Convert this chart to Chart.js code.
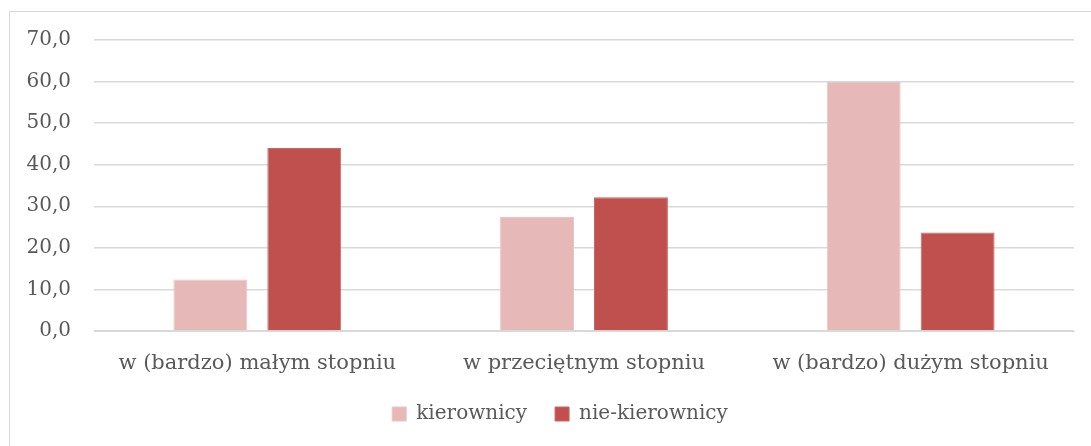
<!DOCTYPE html>
<html lang="pl">
<head>
    <meta charset="UTF-8">
    <title>kierownicy / nie-kierownicy</title>
    <script src="https://cdn.jsdelivr.net/npm/chart.js"></script>
    <style>
        html, body { margin: 0; padding: 0; background: #fff; }
        .frame {
            position: absolute;
            left: 9px; top: 11px;
            width: 1100px; height: 460px;
            border-left: 1px solid #d9d9d9;
            border-top: 1px solid #d9d9d9;
        }
        .chart-box { position: absolute; left: 0; top: 0; width: 1091px; height: 446px; }
    </style>
</head>
<body>
    <div class="frame"></div>
    <div class="chart-box">
        <canvas id="chart"></canvas>
    </div>

    <script>
        const categories = ["w (bardzo) małym stopniu", "w przeciętnym stopniu", "w (bardzo) dużym stopniu"];
        const kierownicy = [12.4, 27.4, 60.0];
        const nieKierownicy = [44.0, 32.2, 23.7];
        const yTicks = [0, 10, 20, 30, 40, 50, 60, 70];

        const fontFamily = "'DejaVu Serif', 'Liberation Serif', serif";
        const textColor = "#595959";

        // legend in the original sits a little right of centre
        const legendShift = {
            id: "legendShift",
            afterLayout(chart) {
                chart.legend.left += 18;
                chart.legend.right += 18;
            }
        };

        const ctx = document.getElementById("chart").getContext("2d");
        new Chart(ctx, {
            type: "bar",
            data: {
                labels: categories,
                datasets: [
                    {
                        label: "kierownicy",
                        data: kierownicy,
                        backgroundColor: "#e6b9b8",
                        borderColor: "#ebc4c3",
                        borderWidth: 1,
                        barPercentage: 0.787,
                        categoryPercentage: 0.575
                    },
                    {
                        label: "nie-kierownicy",
                        data: nieKierownicy,
                        backgroundColor: "#c0504d",
                        borderColor: "#c86663",
                        borderWidth: 1,
                        barPercentage: 0.787,
                        categoryPercentage: 0.575
                    }
                ]
            },
            plugins: [legendShift],
            options: {
                responsive: true,
                maintainAspectRatio: false,
                animation: false,
                layout: { padding: { left: 10, right: 17, top: 40, bottom: 12 } },
                plugins: {
                    tooltip: { enabled: false },
                    legend: {
                        position: "bottom",
                        labels: {
                            font: { family: fontFamily, size: 20 },
                            color: textColor,
                            boxWidth: 14,
                            boxHeight: 14,
                            padding: 28
                        }
                    }
                },
                scales: {
                    x: {
                        afterFit: (scale) => { scale.height = 45; },
                        grid: { display: false },
                        border: { display: true, color: "#d9d9d9", width: 1 },
                        ticks: {
                            font: { family: fontFamily, size: 21 },
                            color: textColor,
                            padding: 12
                        }
                    },
                    y: {
                        min: 0,
                        max: 70,
                        afterFit: (scale) => { scale.width = 84; },
                        afterBuildTicks: (scale) => {
                            scale.ticks = yTicks.map(v => ({ value: v }));
                        },
                        border: { display: false },
                        grid: { color: "#d9d9d9", lineWidth: 1.5, drawTicks: false },
                        ticks: {
                            font: { family: fontFamily, size: 20 },
                            color: textColor,
                            padding: 23,
                            callback: (v) => v.toFixed(1).replace(".", ",")
                        }
                    }
                }
            }
        });
    </script>
</body>
</html>
